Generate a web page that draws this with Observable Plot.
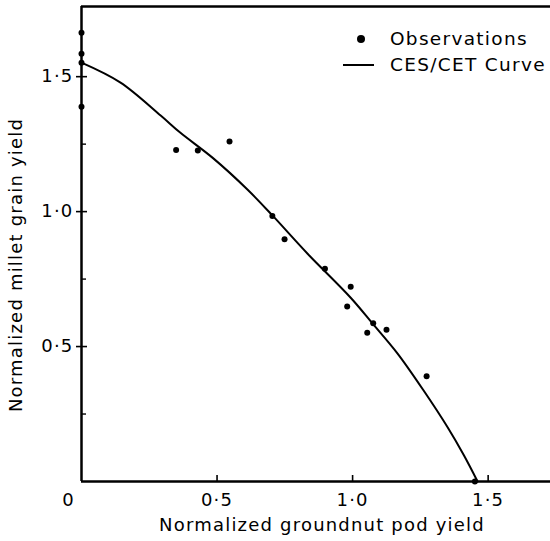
<!DOCTYPE html>
<html><head><meta charset="utf-8">
<script src="https://cdn.jsdelivr.net/npm/d3@7"></script>
<script src="https://cdn.jsdelivr.net/npm/@observablehq/plot@0.6"></script>
<style>
body{margin:0;background:#fff}
#chart{position:relative;width:550px;height:541px;font-family:"DejaVu Sans",sans-serif}
#legend{position:absolute;left:343px;top:26px;font-size:18.5px;letter-spacing:1.3px;color:#000;line-height:26px}
#legend .row{display:flex;align-items:center;white-space:nowrap}
#legend svg{width:34px;height:20px;margin-right:13px}
</style>
</head><body><div id="chart"><div id="legend"></div></div>
<script>
// Observations (normalized groundnut pod yield, normalized millet grain yield)
const obsX = [0, 0, 0, 0, 0.349, 0.429, 0.546, 0.704, 0.749, 0.898, 0.993, 0.980, 1.076, 1.054, 1.125, 1.273, 1.451];
const obsY = [1.663, 1.585, 1.552, 1.389, 1.228, 1.226, 1.260, 0.984, 0.898, 0.788, 0.722, 0.648, 0.586, 0.551, 0.562, 0.390, 0];
// CES/CET fitted curve
const curveX = [0, 0.144, 0.292, 0.365, 0.483, 0.613, 0.705, 0.834, 0.993, 1.074, 1.166, 1.262, 1.351, 1.410, 1.461];
const curveY = [1.552, 1.478, 1.356, 1.292, 1.200, 1.081, 0.985, 0.844, 0.681, 0.585, 0.474, 0.337, 0.200, 0.098, 0];
const xTicks = [0.5, 1.0, 1.5];
const yTicks = [0.5, 1.0, 1.5];
const yMinorTicks = [0.25, 0.75, 1.25];
const xDomain = [0, 1.73];
const yDomain = [0, 1.76];
const xLabel = "Normalized groundnut pod yield";
const yLabel = "Normalized millet grain yield";
const legendItems = ["Observations", "CES/CET Curve"];

const obs = obsX.map((x, i) => ({x, y: obsY[i]}));
const curve = curveX.map((x, i) => ({x, y: curveY[i]}));
const fmt = d => d === 0 ? "0" : d.toFixed(1).replace(".", "\u00b7");

const chart = Plot.plot({
  width: 550, height: 541,
  marginLeft: 81, marginRight: 0, marginTop: 6, marginBottom: 60,
  style: {fontFamily: "DejaVu Sans, sans-serif", fontSize: "18px", letterSpacing: "1.2px", color: "#000", background: "#fff"},
  x: {domain: xDomain, label: null},
  y: {domain: yDomain, label: null},
  marks: [
    Plot.ruleX([xDomain[0]], {strokeWidth: 2.5}),
    Plot.ruleY([yDomain[0]], {strokeWidth: 2.5}),
    Plot.ruleY([yDomain[1]], {strokeWidth: 2.5}),
    Plot.axisX(xTicks, {tickSize: -6, strokeWidth: 1.6, tickFormat: () => ""}),
    Plot.axisX(xTicks, {tickSize: 0, tickPadding: 12, tickFormat: fmt, fontSize: 18}),
    Plot.axisX([0], {tickSize: 0, tickPadding: 12, tickFormat: fmt, fontSize: 18, dx: -13}),
    Plot.axisY(yTicks, {tickSize: 5, strokeWidth: 1.6, tickPadding: 3, tickFormat: fmt, fontSize: 18}),
    Plot.axisY(yTicks, {tickSize: -6, strokeWidth: 1.6, tickFormat: () => ""}),
    Plot.axisY(yMinorTicks, {tickSize: -5, strokeWidth: 1.4, tickFormat: () => ""}),
    Plot.line(curve, {x: "x", y: "y", curve: "catmull-rom", strokeWidth: 2, stroke: "#000"}),
    Plot.dot(obs, {x: "x", y: "y", r: 3, fill: "#000", stroke: "none"}),
    Plot.text([xLabel], {frameAnchor: "bottom", dx: 6, dy: 49, fontSize: 18, text: d => d}),
    Plot.text([yLabel], {frameAnchor: "left", textAnchor: "middle", dx: -65, dy: 21, rotate: -90, fontSize: 18, text: d => d})
  ]
});
const host = document.getElementById("chart");
host.insertBefore(chart, host.firstChild);

const legend = document.getElementById("legend");
legend.innerHTML =
  `<div class="row"><svg viewBox="0 0 34 20"><circle cx="18" cy="10" r="4" fill="#000"/></svg>${legendItems[0]}</div>` +
  `<div class="row"><svg viewBox="0 0 34 20"><line x1="0" y1="10" x2="31" y2="10" stroke="#000" stroke-width="2"/></svg>${legendItems[1]}</div>`;
</script>
</body></html>
